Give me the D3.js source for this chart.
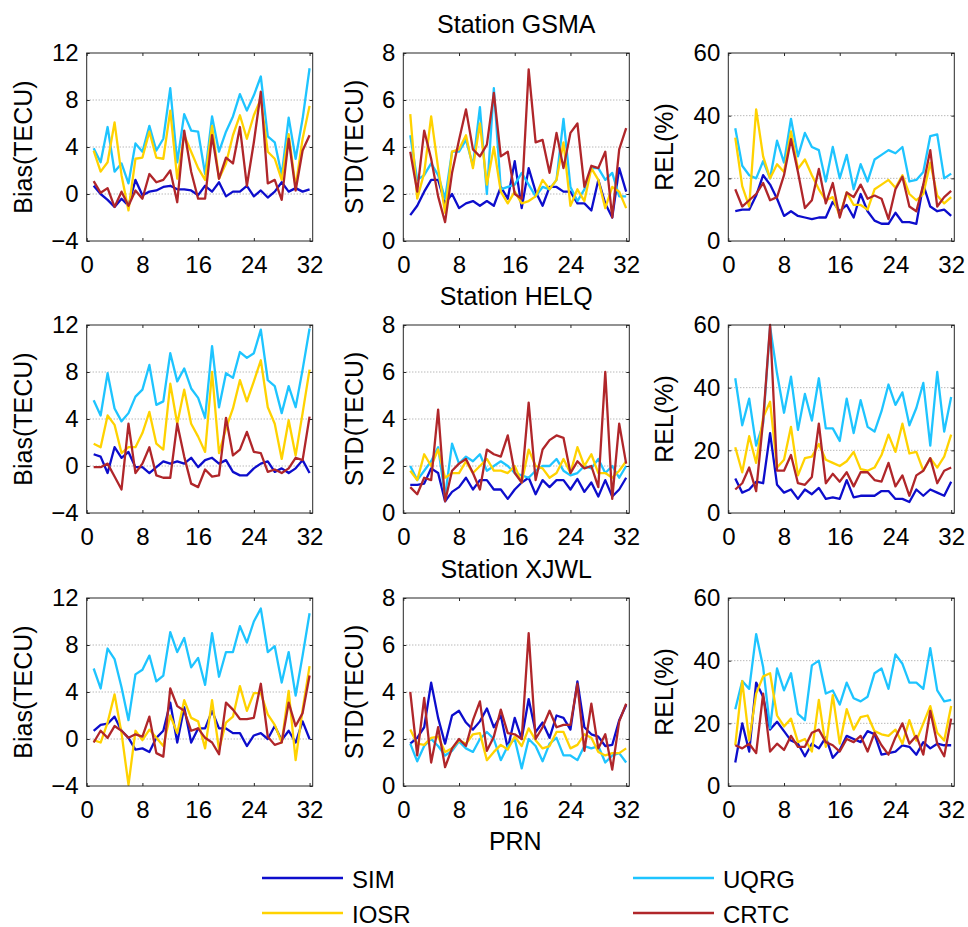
<!DOCTYPE html>
<html>
<head>
<meta charset="utf-8">
<script src="https://cdn.jsdelivr.net/npm/d3@7"></script>
<style>
  body { margin: 0; background: #fff; }
  svg { display: block; font-family: "Liberation Sans", Arial, sans-serif; }
</style>
</head>
<body>
<svg id="chart" width="968" height="927"></svg>
<script>
// PRN numbers on the x axis
var prn = [1,2,3,4,5,6,7,8,9,10,11,12,13,14,15,16,17,18,19,20,21,22,23,24,25,26,27,28,29,30,31,32];
var xTicks = [0, 8, 16, 24, 32];

var stations = ["GSMA", "HELQ", "XJWL"];
var seriesNames = ["SIM", "UQRG", "IOSR", "CRTC"];
var seriesColors = ["#0d0dcc", "#1ec4ff", "#ffd200", "#b0262a"];

var metricLabels = ["Bias(TECU)", "STD(TECU)", "REL(%)"];
var biasTicks = [-4, 0, 4, 8, 12];
var stdTicks = [0, 2, 4, 6, 8];
var relTicks = [0, 20, 40, 60];

// Station GSMA
var gsmaBiasSim  = [0.7,0.0,-0.5,-1.1,-0.4,-1.0,1.2,-0.1,0.2,0.3,0.6,0.7,0.4,0.4,0.3,-0.1,0.7,0.2,1.0,-0.2,0.2,0.2,0.7,-0.2,0.3,-0.3,0.2,1.0,0.2,0.5,0.2,0.4];
var gsmaBiasUqrg = [3.9,2.7,5.7,1.9,2.6,0.9,4.3,3.6,5.8,3.7,4.7,9.0,2.7,6.8,5.4,5.3,1.7,6.6,3.6,5.3,6.6,8.5,7.1,8.4,10.0,4.9,4.4,1.6,6.5,3.0,6.4,10.7];
var gsmaBiasIosr = [3.7,1.9,2.7,6.1,1.6,-1.4,3.0,3.1,5.3,3.1,3.0,7.1,1.3,5.0,3.6,2.2,1.2,5.8,1.3,2.6,5.0,6.7,4.7,6.7,8.1,3.6,3.0,1.2,5.1,0.6,4.7,7.5];
var gsmaBiasCrtc = [1.1,0.1,0.5,-1.1,0.2,-1.0,0.3,-0.4,1.7,1.0,1.2,2.0,-0.7,5.4,1.9,-0.4,-0.4,5.0,1.3,3.1,2.6,5.7,0.7,4.4,8.7,0.9,1.2,-0.5,4.7,0.3,3.7,5.0];

var gsmaStdSim  = [1.1,1.5,2.1,2.6,2.6,1.6,2.0,1.4,1.6,1.7,1.5,1.7,1.5,2.3,1.8,3.4,1.4,3.1,2.1,1.5,2.3,2.3,2.1,2.1,1.6,1.6,1.3,2.6,1.6,1.0,3.1,2.1];
var gsmaStdUqrg = [4.5,2.6,2.8,3.3,2.8,1.8,3.8,3.8,4.3,3.2,5.7,2.0,6.5,2.2,2.3,2.4,2.9,2.4,1.9,2.3,2.2,2.6,5.2,2.3,1.7,2.2,3.1,3.1,2.6,2.9,1.9,1.9];
var gsmaStdIosr = [5.4,1.8,2.9,5.3,3.1,1.2,3.8,3.9,4.5,3.1,5.0,2.4,4.0,2.1,1.6,2.1,1.6,1.7,1.9,2.6,2.2,2.6,4.2,1.5,2.2,1.7,3.1,2.6,1.4,2.3,2.1,1.4];
var gsmaStdCrtc = [3.8,2.1,4.7,3.5,1.9,0.8,2.9,4.3,5.6,3.9,3.6,4.1,6.3,3.6,3.8,2.0,1.8,7.3,4.2,4.3,2.9,4.6,3.1,4.6,5.0,2.3,3.2,3.1,3.8,1.0,3.9,4.8];

var gsmaRelSim  = [9.5,10,10,14.5,21,18,13.5,8,9.5,8,7.5,7,7.5,7.5,12.5,9.5,11.5,7.5,15,9.5,6.5,5.5,5.5,9,6,6,5.5,18,11,9.5,10,8];
var gsmaRelUqrg = [36,24,21,20,25.5,20,32,25,39,27,34.5,30,29,19,30,20,27.5,16.5,24.5,19,26,27.5,29,28,30,19,19.5,22,33.5,34,20,21.5];
var gsmaRelIosr = [33,17.5,11,42,27,20,24.5,22,35,23,26,21,16.5,13,14,8,15.5,11.5,11.5,10,16.5,18,19.5,17,21,15,13,15,25,14.5,12,14];
var gsmaRelCrtc = [16.5,11,13,15,18.5,13,14,21,32.5,22,10.5,13,23,12,18.5,7.5,15.5,14,18,13.5,14.5,13.5,7,16.5,20.5,11,9.5,18,29,11,14,16];

// Station HELQ
var helqBiasSim  = [1.0,0.8,-0.6,1.6,0.7,1.2,-0.1,-0.1,-0.6,-0.1,0.4,0.2,0.4,0.2,0.7,-0.1,0.5,0.7,0.2,0.5,-0.5,-0.8,-0.8,-0.2,0.2,0.4,-0.5,-0.2,-0.6,-0.2,0.5,-0.6];
var helqBiasUqrg = [5.6,4.3,7.9,4.9,3.8,4.5,5.9,6.5,8.6,5.2,5.5,9.6,7.2,8.3,6.6,5.8,4.1,10.2,5.0,7.9,7.5,9.7,9.2,9.6,11.6,7.3,6.8,4.5,6.8,5.0,8.2,11.7];
var helqBiasIosr = [1.9,1.6,4.3,3.5,1.1,1.6,1.6,2.8,4.6,1.9,1.4,7.0,3.6,6.5,3.6,2.5,1.2,8.0,1.1,3.2,4.9,7.3,5.5,7.2,9.0,5.0,3.6,0.6,3.9,0.9,4.5,8.2];
var helqBiasCrtc = [-0.1,-0.1,0.2,-0.9,-2.0,3.6,-0.6,0.2,1.6,-0.8,-1.0,-1.0,3.6,0.8,-1.5,-1.8,-0.3,-0.9,-0.8,4.1,0.9,1.4,2.9,1.2,1.1,-0.5,-0.3,-0.6,-0.2,0.7,0.5,4.2];

var helqStdSim  = [1.2,1.2,1.25,1.9,1.7,0.5,0.9,1.1,1.5,1.0,1.4,1.4,1.0,1.0,0.6,1.0,1.3,1.5,0.8,1.4,1.1,1.4,1.4,1.0,1.45,0.9,1.3,0.7,1.4,0.7,1.0,1.5];
var helqStdUqrg = [2.0,1.4,1.8,2.2,2.8,0.7,2.95,2.1,2.4,2.2,2.5,1.8,2.0,2.2,2.0,1.7,1.6,1.5,1.8,2.0,2.0,2.3,1.8,1.6,1.7,2.0,1.9,2.3,1.7,2.0,1.5,2.0];
var helqStdIosr = [1.8,1.4,2.5,2.0,2.7,1.5,1.7,1.7,2.2,1.7,2.0,2.3,1.8,1.8,1.7,2.0,1.3,2.7,2.0,1.9,1.5,1.7,2.3,1.7,2.8,2.0,2.5,1.7,1.7,1.5,1.8,2.2];
var helqStdCrtc = [1.1,0.8,1.5,1.4,4.4,0.5,1.8,2.1,2.3,1.7,1.0,2.7,2.5,2.4,3.3,1.7,1.3,4.7,1.4,2.7,3.1,3.3,3.2,1.7,2.2,1.9,2.0,1.1,6.0,0.6,3.8,2.1];

var helqRelSim  = [11,6.5,7.5,10,9.5,25.5,9,6.5,7.5,4.5,7.5,6,8,4.5,5,4.5,10.5,5,5.5,5.5,5.5,7,7,4.5,4.5,3.5,7.5,5.5,7.5,6.5,5.5,10];
var helqRelUqrg = [43,28,36.5,21.5,28.5,59.5,44.5,32,43.5,26.5,38,29.5,43,27,27,23,36.5,25.5,36,27.5,26,32.5,41,34.5,38.5,28,33.5,41.5,21.5,45,26,37];
var helqRelIosr = [21,13,24.5,16,30.5,35.5,14.5,17,27.5,12,17.5,18,22,17,16,15,16.5,19.5,14,13.5,14.5,18.5,25,19.5,28.5,19,19.5,13.5,17.5,14.5,18,25];
var helqRelCrtc = [7.5,9.5,14.5,7,29.5,60,13.5,13.5,18.5,9.5,9,11.5,28.5,9.5,12.5,10,13,8.5,13,13,10.5,10,16,8.5,12,5.5,12,13.5,17.5,9.5,13.5,14.5];

// Station XJWL
var xjwlBiasSim  = [0.7,1.2,1.3,1.9,0.7,0.1,-0.9,-0.8,-1.1,0.1,0.7,3.1,-0.3,2.7,-0.3,0.9,0.9,2.4,0.9,0.9,0.5,0.5,-0.6,0.3,0.5,0.0,1.1,-0.1,0.7,-0.3,1.5,0.0];
var xjwlBiasUqrg = [6.0,4.3,7.7,6.8,4.4,1.6,5.5,5.9,7.1,4.9,5.4,9.1,7.4,8.6,6.1,6.9,4.6,9.0,5.3,7.4,7.4,9.6,8.2,10.0,11.1,7.4,7.9,4.8,7.4,3.7,7.1,10.7];
var xjwlBiasIosr = [-0.1,-0.3,1.4,3.8,0.5,-3.9,0.7,-0.1,0.8,0.1,-0.6,2.0,0.5,3.3,1.8,1.5,-0.8,3.3,-0.9,1.4,1.9,4.5,2.4,3.9,3.9,2.1,1.2,-0.3,4.1,-1.8,2.5,6.2];
var xjwlBiasCrtc = [-0.3,0.7,0.1,1.1,0.7,0.1,0.4,0.2,1.9,-1.2,-1.5,4.3,2.8,2.4,0.7,0.9,0.1,-0.3,-1.3,3.1,2.5,1.7,1.7,1.8,4.7,0.2,-0.5,-0.3,3.1,1.1,2.2,5.4];

var xjwlStdSim  = [1.8,2.05,2.5,4.4,2.9,1.8,3.0,3.2,2.7,2.4,2.75,3.3,2.5,3.0,1.6,2.9,2.0,3.7,2.3,2.7,2.05,3.0,2.9,2.4,4.45,2.5,2.2,2.1,1.7,1.75,2.8,3.45];
var xjwlStdUqrg = [1.8,1.05,1.7,2.0,1.7,1.3,1.5,1.9,1.6,1.45,2.0,2.3,2.0,1.1,1.7,2.0,0.75,2.0,1.7,1.05,1.8,2.05,1.3,1.3,1.1,1.7,1.6,1.7,1.0,1.3,1.4,1.0];
var xjwlStdIosr = [2.4,1.8,1.75,2.05,2.1,1.45,1.6,1.95,1.8,2.2,2.25,1.1,1.45,1.75,1.55,2.1,1.7,2.45,1.95,1.6,1.7,2.3,2.3,1.6,1.75,2.2,2.05,1.45,1.3,1.4,1.4,1.6];
var xjwlStdCrtc = [4.0,1.3,3.75,1.0,2.5,0.8,1.6,2.0,1.7,2.8,3.6,1.5,2.1,3.25,2.25,2.2,2.0,6.5,2.0,2.5,3.2,2.5,2.6,2.6,4.35,1.5,3.5,1.6,2.2,0.7,2.75,3.5];

var xjwlRelSim  = [7.5,20,11,33,28.5,18,20.5,17.5,14.5,13.5,9.5,13.5,12,15.5,9,11.5,16,15,14,17.5,16.5,10,10.5,11,13,12.5,10,14,12,13.5,13,13];
var xjwlRelUqrg = [24.5,33.5,31,48.5,38,18.5,37.5,30.5,36,23,21,38.5,40,29.5,30.5,26,33,28,27,28.5,36,37.5,31,42,39,33,33,31,44,30.5,27,27.5];
var xjwlRelIosr = [13,33.5,14.5,29.5,35,36,22.5,19,21.5,14,15,11,27.5,12.5,29,13.5,24.5,18,22,22.5,17.5,16.5,16,18,13.5,21,14.5,20,25.5,17,14.5,25.5];
var xjwlRelCrtc = [13,12,13.5,10.5,29.5,11,13.5,11.5,16,12.5,12.5,17,18,14,13,11,15,14,16,11,17,13,10,15.5,20,13.5,16,10,24,13.5,9.5,21.5];

(function() {
    var svg = d3.select("#chart");

    // panel layout (3 rows x 3 columns)
    var colLeft = [86.7, 403.3, 728.3],
        rowTop = [53, 325, 598],
        pw = 226,
        ph = 188,
        ylabelGap = [55, 40, 55];

    var metricTicks = [biasTicks, stdTicks, relTicks];
    var panelData = [
        [[gsmaBiasSim, gsmaBiasUqrg, gsmaBiasIosr, gsmaBiasCrtc],
         [gsmaStdSim, gsmaStdUqrg, gsmaStdIosr, gsmaStdCrtc],
         [gsmaRelSim, gsmaRelUqrg, gsmaRelIosr, gsmaRelCrtc]],
        [[helqBiasSim, helqBiasUqrg, helqBiasIosr, helqBiasCrtc],
         [helqStdSim, helqStdUqrg, helqStdIosr, helqStdCrtc],
         [helqRelSim, helqRelUqrg, helqRelIosr, helqRelCrtc]],
        [[xjwlBiasSim, xjwlBiasUqrg, xjwlBiasIosr, xjwlBiasCrtc],
         [xjwlStdSim, xjwlStdUqrg, xjwlStdIosr, xjwlStdCrtc],
         [xjwlRelSim, xjwlRelUqrg, xjwlRelIosr, xjwlRelCrtc]]
    ];

    var xScale = d3.scaleLinear()
        .domain([0, 32.45])
        .range([0, pw]);

    stations.forEach(function(station, r) {
        // station title above the middle column
        svg.append("text")
            .attr("x", colLeft[1] + pw / 2)
            .attr("y", rowTop[r] - 20)
            .attr("text-anchor", "middle")
            .style("font-size", "25px")
            .text("Station " + station);

        metricLabels.forEach(function(label, c) {
            var ticks = metricTicks[c];
            var yScale = d3.scaleLinear()
                .domain([ticks[0], ticks[ticks.length - 1]])
                .range([ph, 0]);

            var g = svg.append("g")
                .attr("transform", "translate(" + colLeft[c] + "," + rowTop[r] + ")");

            // dotted grid lines
            g.selectAll(".grid")
                .data(ticks.slice(1, -1))
                .enter().append("line")
                .attr("class", "grid")
                .attr("x1", 0)
                .attr("x2", pw)
                .attr("y1", d => yScale(d))
                .attr("y2", d => yScale(d))
                .attr("stroke", "#9a9a9a")
                .attr("stroke-width", 1)
                .attr("stroke-dasharray", "1,2");

            // the four series
            var line = d3.line()
                .x((d, i) => xScale(prn[i]))
                .y(d => yScale(d));

            panelData[r][c].forEach(function(vals, s) {
                g.append("path")
                    .datum(vals)
                    .attr("fill", "none")
                    .attr("stroke", seriesColors[s])
                    .attr("stroke-width", 2.3)
                    .attr("stroke-linejoin", "round")
                    .attr("d", line);
            });

            // axes with inward ticks
            var yAxis = g.append("g")
                .call(d3.axisLeft(yScale).tickValues(ticks).tickSizeInner(-3).tickSizeOuter(0).tickPadding(8));
            var xAxis = g.append("g")
                .attr("transform", "translate(0," + ph + ")")
                .call(d3.axisBottom(xScale).tickValues(xTicks).tickSizeInner(-3).tickSizeOuter(0).tickPadding(15));
            var topAxis = g.append("g")
                .call(d3.axisTop(xScale).tickValues(xTicks).tickSizeInner(-3).tickSizeOuter(0).tickFormat(""));
            var rightAxis = g.append("g")
                .attr("transform", "translate(" + pw + ",0)")
                .call(d3.axisRight(yScale).tickValues(ticks).tickSizeInner(-3).tickSizeOuter(0).tickFormat(""));

            [yAxis, xAxis, topAxis, rightAxis].forEach(function(ax) {
                ax.select(".domain").remove();
                ax.selectAll("line").attr("stroke", "#262626");
                ax.selectAll("text")
                    .attr("fill", "#000")
                    .style("font-size", "24px")
                    .style("font-family", "'Liberation Sans', Arial, sans-serif");
            });
            xAxis.selectAll("text").attr("dy", "0.71em");

            // box
            g.append("rect")
                .attr("width", pw)
                .attr("height", ph)
                .attr("fill", "none")
                .attr("stroke", "#262626")
                .attr("stroke-width", 1);

            // y label
            g.append("text")
                .attr("transform", "translate(" + (-ylabelGap[c]) + "," + (ph / 2) + ") rotate(-90)")
                .attr("text-anchor", "middle")
                .style("font-size", "25px")
                .text(label);
        });
    });

    // x label
    svg.append("text")
        .attr("x", colLeft[1] + pw / 2 - 1)
        .attr("y", 850)
        .attr("text-anchor", "middle")
        .style("font-size", "25px")
        .text("PRN");

    // legend (2 x 2)
    var legendPos = [[262, 878], [633, 878], [262, 913], [633, 913]];
    var legend = svg.selectAll(".legend")
        .data(seriesNames)
        .enter().append("g")
        .attr("class", "legend")
        .attr("transform", (d, i) => "translate(" + legendPos[i][0] + "," + legendPos[i][1] + ")");

    legend.append("line")
        .attr("x1", 0)
        .attr("x2", 81)
        .attr("stroke", (d, i) => seriesColors[i])
        .attr("stroke-width", 2.3);

    legend.append("text")
        .attr("x", 90)
        .attr("y", 1)
        .attr("dy", "0.36em")
        .style("font-size", "24px")
        .text(d => d);
})();
</script>
</body>
</html>
